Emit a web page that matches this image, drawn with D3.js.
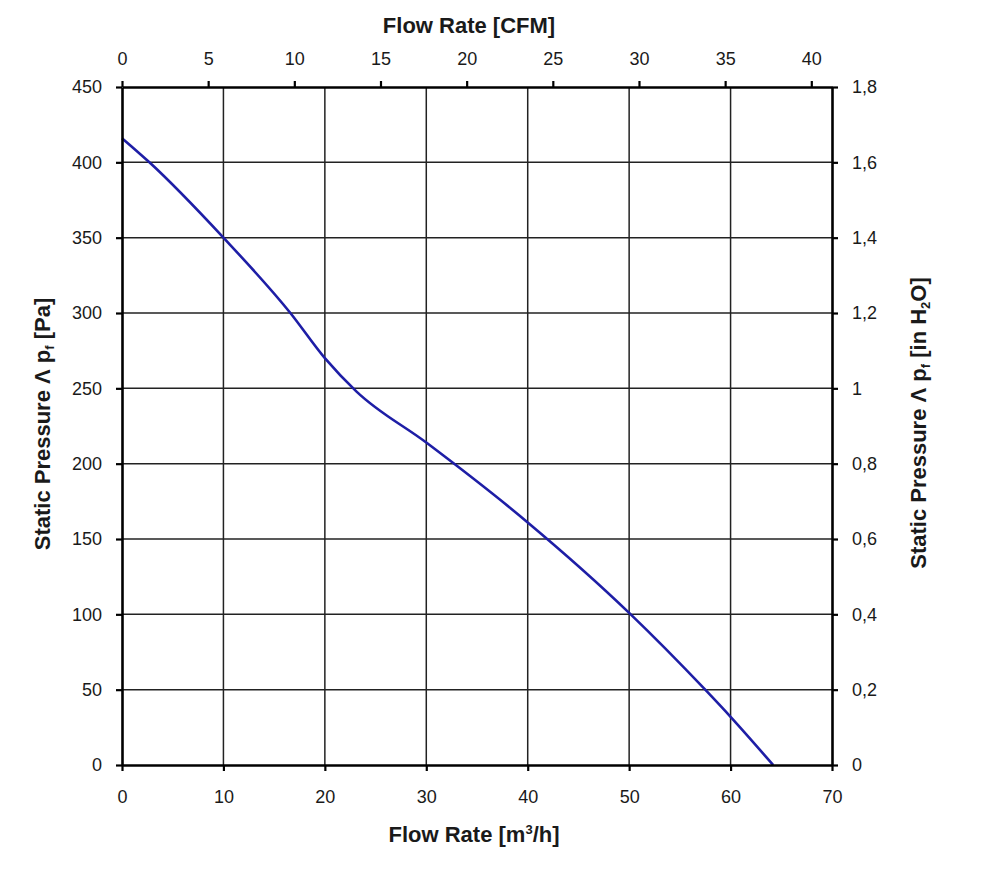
<!DOCTYPE html>
<html>
<head>
<meta charset="utf-8">
<script src="https://cdn.jsdelivr.net/npm/d3@7"></script>
<style>
  body { margin: 0; background: #fff; }
  svg text { font-family: "Liberation Sans", Arial, sans-serif; fill: #1a1a1a; }
</style>
</head>
<body>
<script>
// fan curve
var flow_m3h = [0, 2.7, 10, 16.6, 20, 23.1, 30, 40, 50, 57.5, 60, 64.2];
var pressure_pa = [416, 400, 350, 300, 270, 248, 214, 161, 101, 50, 32, 0];

var bottom_ticks = [0, 10, 20, 30, 40, 50, 60, 70];
var left_ticks = [0, 50, 100, 150, 200, 250, 300, 350, 400, 450];
var top_ticks = [0, 5, 10, 15, 20, 25, 30, 35, 40];
var right_ticks = [0, 0.2, 0.4, 0.6, 0.8, 1, 1.2, 1.4, 1.6, 1.8];

var cfm_per_m3h = 1 / 1.699;

var width = 1000;
var height = 885;
var plot = { left: 122, right: 832, top: 87, bottom: 765 };

var svg = d3.select('body')
    .append('svg')
    .attr('width', width)
    .attr('height', height);

var x = d3.scaleLinear().domain([0, 70]).range([plot.left, plot.right]);
var y = d3.scaleLinear().domain([0, 450]).range([plot.bottom, plot.top]);
var x_cfm = d3.scaleLinear().domain([0, 70 * cfm_per_m3h]).range([plot.left, plot.right]);
var y_inh2o = d3.scaleLinear().domain([0, 1.8]).range([plot.bottom, plot.top]);

var comma = function(d) { return String(d).replace('.', ','); };

// grid
var grid = svg.append('g').attr('id', 'grid');
grid.selectAll('line.v').data(bottom_ticks.slice(1, -1)).enter()
    .append('line')
    .attr('class', 'v')
    .attr('x1', function(d) { return x(d); })
    .attr('x2', function(d) { return x(d); })
    .attr('y1', plot.top)
    .attr('y2', plot.bottom)
    .attr('stroke', '#222')
    .attr('stroke-width', 1.5);
grid.selectAll('line.h').data(left_ticks.slice(1, -1)).enter()
    .append('line')
    .attr('class', 'h')
    .attr('x1', plot.left)
    .attr('x2', plot.right)
    .attr('y1', function(d) { return y(d); })
    .attr('y2', function(d) { return y(d); })
    .attr('stroke', '#222')
    .attr('stroke-width', 1.5);

// curve
var points = flow_m3h.map(function(f, i) { return { flow: f, p: pressure_pa[i] }; });
var line = d3.line()
    .x(function(d) { return x(d.flow); })
    .y(function(d) { return y(d.p); })
    .curve(d3.curveMonotoneX);

svg.append('path')
    .datum(points)
    .attr('d', line)
    .attr('fill', 'none')
    .attr('stroke', '#1e1ea6')
    .attr('stroke-width', 2.6);

// axes
function style_axis(g) {
    g.select('.domain').attr('stroke', '#000').attr('stroke-width', 2.6);
    g.selectAll('.tick line').attr('stroke', '#000').attr('stroke-width', 2.2);
    g.selectAll('.tick text').attr('font-size', 18).attr('fill', '#1a1a1a');
    g.attr('font-family', null);
}

svg.append('g')
    .attr('transform', `translate(0, ${plot.bottom})`)
    .call(d3.axisBottom(x).tickValues(bottom_ticks).tickSize(6).tickSizeOuter(0).tickPadding(19))
    .call(style_axis);

svg.append('g')
    .attr('transform', `translate(${plot.left}, 0)`)
    .call(d3.axisLeft(y).tickValues(left_ticks).tickSize(6).tickSizeOuter(0).tickPadding(14))
    .call(style_axis);

svg.append('g')
    .attr('transform', `translate(0, ${plot.top})`)
    .call(d3.axisTop(x_cfm).tickValues(top_ticks).tickSize(6).tickSizeOuter(0).tickPadding(16))
    .call(style_axis);

svg.append('g')
    .attr('transform', `translate(${plot.right}, 0)`)
    .call(d3.axisRight(y_inh2o).tickValues(right_ticks).tickFormat(comma).tickSize(6).tickSizeOuter(0).tickPadding(14))
    .call(style_axis);

// axis titles
svg.append('text')
    .attr('x', 469)
    .attr('y', 33)
    .attr('text-anchor', 'middle')
    .attr('font-size', 22)
    .attr('font-weight', 700)
    .text('Flow Rate [CFM]');

var bottom_title = svg.append('text')
    .attr('x', 474)
    .attr('y', 842)
    .attr('text-anchor', 'middle')
    .attr('font-size', 22)
    .attr('font-weight', 700);
bottom_title.append('tspan').text('Flow Rate [m');
bottom_title.append('tspan').attr('font-size', 13).attr('dy', -8).text('3');
bottom_title.append('tspan').attr('dy', 8).text('/h]');

var left_title = svg.append('text')
    .attr('transform', 'translate(50, 424) rotate(-90)')
    .attr('text-anchor', 'middle')
    .attr('font-size', 22)
    .attr('font-weight', 700);
left_title.append('tspan').text('Static Pressure Λ p');
left_title.append('tspan').attr('font-size', 13).attr('dy', 4).text('f');
left_title.append('tspan').attr('dy', -4).text(' [Pa]');

var right_title = svg.append('text')
    .attr('transform', 'translate(926, 423) rotate(-90)')
    .attr('text-anchor', 'middle')
    .attr('font-size', 22)
    .attr('font-weight', 700);
right_title.append('tspan').text('Static Pressure Λ p');
right_title.append('tspan').attr('font-size', 13).attr('dy', 4).text('f');
right_title.append('tspan').attr('dy', -4).text(' [in H');
right_title.append('tspan').attr('font-size', 13).attr('dy', 4).text('2');
right_title.append('tspan').attr('dy', -4).text('O]');
</script>
</body>
</html>
